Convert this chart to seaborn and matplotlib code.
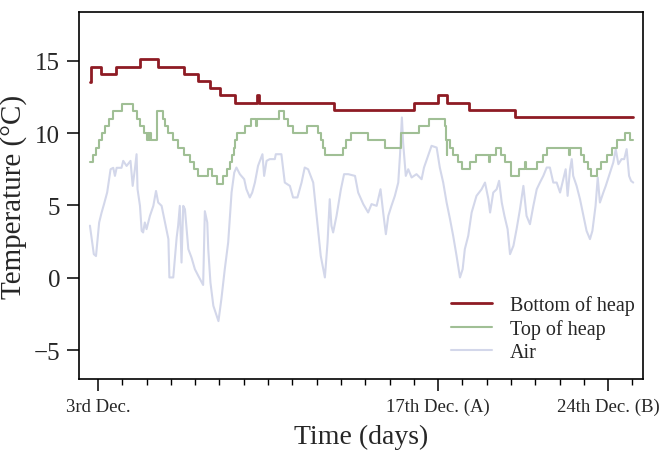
import numpy as np
import pandas as pd
import matplotlib
matplotlib.use("Agg")
import matplotlib.pyplot as plt
import seaborn as sns
from matplotlib.ticker import FixedLocator

# time in days of December, temperatures in deg C
red_t = [2.67, 2.70, 3.11, 3.74, 4.73, 5.46, 6.55, 7.13, 7.61, 8.02, 8.64, 9.55, 9.62,
         12.71, 16.02, 17.00, 17.35, 18.27, 20.16, 25.03]
red_v = [13.55, 14.6, 14.1, 14.6, 15.1, 14.6, 14.1, 13.6, 13.1, 12.6, 12.1, 12.6, 12.1,
         11.6, 12.1, 12.6, 12.1, 11.6, 11.1, 11.1]

green_t = [2.67, 2.78, 2.92, 3.05, 3.15, 3.30, 3.45, 3.63, 3.97, 4.45, 4.62, 4.75, 4.90,
           5.00, 5.05, 5.10, 5.14, 5.20, 5.44, 5.66, 5.78, 5.90, 6.07, 6.30, 6.55, 6.80,
           6.97, 7.13, 7.54, 7.68, 7.88, 8.16, 8.32, 8.42, 8.50, 8.58, 8.66, 8.72, 9.05,
           9.30, 9.50, 9.56, 10.45, 10.64, 10.82, 11.02, 11.59, 12.05, 12.20, 12.27, 12.34,
           13.09, 13.22, 13.42, 14.12, 14.80, 15.47, 16.20, 16.62, 17.28, 17.32, 17.35,
           17.38, 17.49, 17.62, 17.80, 17.97, 18.31, 18.58, 19.10, 19.15, 19.38, 19.60,
           19.75, 19.98, 20.33, 20.58, 20.62, 21.05, 21.30, 21.50, 22.38, 22.43, 22.88,
           23.00, 23.15, 23.30, 23.52, 23.72, 23.95, 24.15, 24.38, 24.70, 24.90, 25.03]
green_v = [8.0, 8.5, 9.0, 9.5, 10.0, 10.5, 11.0, 11.5, 12.0, 11.5, 11.0, 10.5, 10.0,
           9.5, 10.0, 9.5, 10.0, 9.5, 11.5, 11.0, 10.5, 10.0, 9.5, 9.0, 8.5, 8.0,
           7.5, 7.0, 7.5, 7.0, 6.5, 7.0, 7.5, 8.0, 8.5, 9.0, 9.5, 10.0, 10.5,
           11.0, 10.5, 11.0, 11.5, 11.0, 10.5, 10.0, 10.5, 10.0, 9.5, 9.0, 8.5,
           9.0, 9.5, 10.0, 9.5, 9.0, 10.0, 10.5, 11.0, 10.5, 9.5, 8.5,
           9.5, 9.0, 8.5, 8.0, 7.5, 8.0, 8.5, 8.0, 8.5, 9.0, 8.5,
           8.0, 7.0, 7.5, 8.0, 7.5, 8.0, 8.5, 9.0, 8.5, 9.0, 8.5,
           8.0, 7.5, 7.0, 7.5, 8.0, 8.5, 9.0, 9.5, 10.0, 9.5, 9.5]

air_t = [2.67, 2.83, 2.92, 3.05, 3.15, 3.25, 3.38, 3.52, 3.63, 3.70, 3.77, 3.97, 4.04,
         4.18, 4.34, 4.43, 4.52, 4.59, 4.63, 4.73, 4.80, 4.86, 4.93, 5.00, 5.14, 5.28,
         5.39, 5.48, 5.62, 5.76, 5.90, 5.94, 6.10, 6.24, 6.30, 6.37, 6.44, 6.51, 6.58,
         6.72, 6.85, 6.99, 7.13, 7.33, 7.40, 7.50, 7.54, 7.63, 7.75, 7.88, 7.96,
         8.08, 8.22, 8.36, 8.50, 8.61, 8.70, 8.84, 9.02, 9.11, 9.25, 9.35, 9.46, 9.59,
         9.77, 9.84, 9.94, 10.07, 10.28, 10.32, 10.55, 10.69, 10.90, 11.03, 11.21, 11.38,
         11.51, 11.65, 11.86, 12.00, 12.17, 12.34, 12.45, 12.54, 12.61, 12.68, 12.82,
         13.00, 13.13, 13.30, 13.58, 13.71, 13.92, 14.12, 14.26, 14.47, 14.63, 14.74,
         14.85, 14.95, 15.08, 15.22, 15.36, 15.43, 15.51, 15.56, 15.67, 15.77, 15.91,
         16.11, 16.32, 16.42, 16.59, 16.73, 16.94, 17.07, 17.21, 17.35, 17.49, 17.62,
         17.76, 17.90, 18.01, 18.10, 18.24, 18.38, 18.58, 18.79, 18.93, 19.07, 19.14,
         19.27, 19.41, 19.51, 19.62, 19.73, 19.86, 19.96, 20.10, 20.23, 20.37, 20.51,
         20.64, 20.78, 20.92, 21.06, 21.19, 21.33, 21.47, 21.60, 21.74, 21.88, 22.02,
         22.15, 22.25, 22.33, 22.43, 22.50, 22.56, 22.70, 22.84, 22.98, 23.11, 23.25,
         23.35, 23.48, 23.57, 23.66, 23.80, 23.90, 24.03, 24.21, 24.31, 24.42, 24.55,
         24.66, 24.76, 24.86, 24.94, 25.03]
air_v = [3.6, 1.63, 1.5, 3.82, 4.5, 5.09, 5.9, 7.5, 7.6, 7.04, 7.6, 7.6, 8.08,
         7.73, 8.08, 6.35, 7.5, 8.54, 6.12, 4.97, 3.24, 3.13, 3.82, 3.36, 4.28, 4.97,
         6.0, 5.2, 4.97, 3.82, 2.67, 0.02, 0.02, 2.78, 3.59, 4.97, 1.05, 4.97, 4.74,
         1.98, 1.4, 0.59, 0.13, -0.5, 4.6, 3.82, 1.98, -0.33, -1.94, -2.6, -3.0,
         -1.48, 0.59, 2.44, 5.9, 7.27, 7.62, 7.16, 6.81, 6.12, 5.55, 5.89, 6.58, 7.74,
         8.54, 7.04, 8.08, 8.2, 8.2, 8.54, 8.54, 6.58, 6.35, 5.55, 5.55, 6.58,
         7.62, 7.5, 6.58, 4.28, 1.51, 0.02, 2.44, 5.43, 3.59, 3.13, 4.28,
         6.12, 7.16, 7.16, 7.04, 5.89, 5.09, 4.51, 5.09, 4.97, 6.12, 4.51,
         3.01, 4.28, 4.97, 5.66, 6.58, 8.43, 11.08, 9.35, 7.04, 7.5, 6.93,
         7.16, 6.81, 7.62, 8.43, 9.12, 9.0, 7.62, 6.58, 5.2, 4.05, 2.9,
         1.51, 0.02, 0.59, 1.98, 2.9, 4.51, 5.66, 6.12, 6.58, 5.43, 4.51,
         5.89, 6.12, 6.7, 5.2, 4.28, 3.36, 1.63, 2.21, 3.36, 4.74, 6.35,
         4.28, 3.7, 4.97, 6.12, 6.58, 7.04, 7.62, 7.62, 6.58, 6.58, 5.89,
         6.81, 7.5, 5.66, 7.5, 8.2, 7.04, 6.35, 5.43, 4.28, 3.24, 2.67,
         3.24, 4.97, 6.93, 5.2, 5.89, 6.35, 7.04, 7.97, 8.89, 7.85, 8.2,
         8.2, 8.89, 7.04, 6.7, 6.58]

tick_days = [3, 17, 24]
tick_labels = ["3rd Dec.", "17th Dec. (A)", "24th Dec. (B)"]

sns.set_theme(style="ticks")
plt.rcParams['font.family'] = ['Liberation Serif', 'DejaVu Serif']

fig = plt.figure(figsize=(6.66, 4.56), dpi=100)
ax = fig.add_axes([0.1186, 0.1667, 0.8464, 0.8041])

air = pd.DataFrame({"t": air_t, "T": air_v})
top = pd.DataFrame({"t": green_t, "T": green_v})
bottom = pd.DataFrame({"t": red_t, "T": red_v})

sns.lineplot(data=air, x="t", y="T", ax=ax, color="#d3d7ea", lw=1.5,
             estimator=None, sort=False, label="Air", zorder=1)
sns.lineplot(data=top, x="t", y="T", ax=ax, color="#a0bf95", lw=1.5,
             estimator=None, sort=False, drawstyle="steps-post", label="Top of heap", zorder=2)
sns.lineplot(data=bottom, x="t", y="T", ax=ax, color="#8e1b24", lw=2.0,
             estimator=None, sort=False, drawstyle="steps-post", label="Bottom of heap", zorder=3)

ax.set_xlim(2.22, 25.42)
ax.set_ylim(-7.0, 18.35)
ax.set_xticks(tick_days)
ax.set_xticklabels(tick_labels, fontsize=13.5)
ax.xaxis.set_minor_locator(FixedLocator(np.arange(3, 26)))
ax.set_yticks([-5, 0, 5, 10, 15])
ax.set_yticklabels(["\u22125", "0", "5", "10", "15"], fontsize=18)
ax.tick_params(axis="both", which="major", direction="out", length=8.5, width=1.1,
               color="black", pad=5)
ax.tick_params(axis="x", which="minor", direction="out", length=4.5, width=1.0, color="black")
for s in ax.spines.values():
    s.set_color("black")
    s.set_linewidth(1.2)

ax.set_xlabel("Time (days)", fontsize=20, labelpad=6)
ax.set_ylabel("Temperature (°C)", fontsize=21, labelpad=5)

h, l = ax.get_legend_handles_labels()
ax.legend(h[::-1], l[::-1], loc="lower right", bbox_to_anchor=(1.0, 0.025), frameon=False,
          fontsize=14.5, handlelength=2.0, handletextpad=0.9, labelspacing=0.2,
          borderaxespad=0.0)

fig.savefig("out.png", dpi=100)
